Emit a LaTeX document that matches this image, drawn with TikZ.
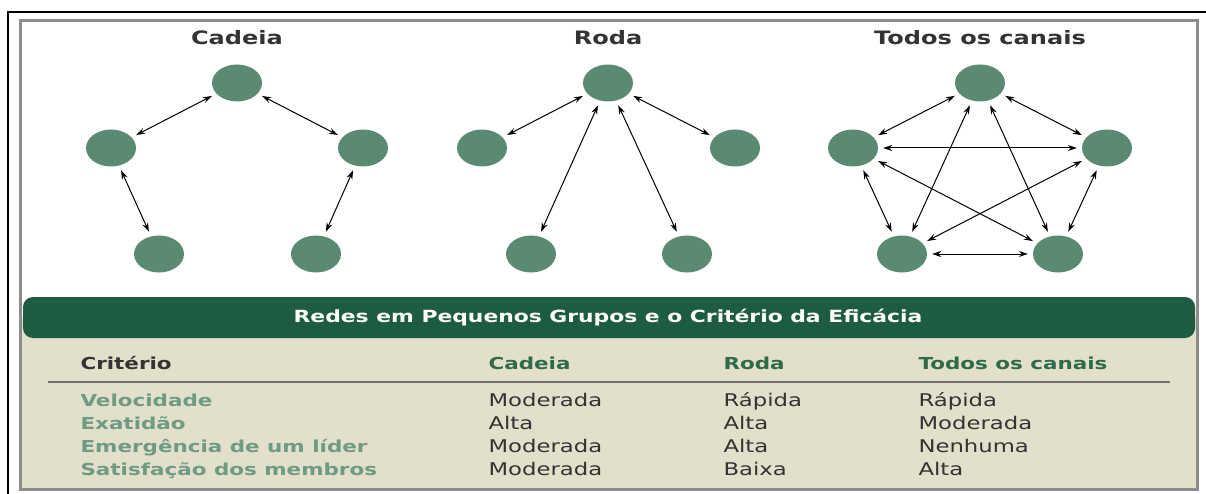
\documentclass[tikz,border=0pt]{standalone}
\usepackage{fontspec}
\setmainfont{DejaVu Sans}[FakeStretch=1.3]
\usetikzlibrary{shapes.geometric,arrows.meta}
\definecolor{membroverde}{HTML}{5B8A72}
\definecolor{faixaverde}{HTML}{1D5C40}
\definecolor{fundobege}{HTML}{E2DFCB}
\definecolor{molduracinza}{HTML}{8C8C8C}
\definecolor{criterioverde}{HTML}{6F9B82}
\definecolor{colunaverde}{HTML}{2F6B4B}
\definecolor{textocinza}{HTML}{333333}
\tikzset{
    membro/.style = {ellipse, fill=membroverde, minimum width=50pt, minimum height=37pt, inner sep=0pt},
    canal/.style = {{Stealth[length=9pt,width=6pt]}-{Stealth[length=9pt,width=6pt]}, line width=1pt, shorten <=5pt, shorten >=5pt},
    titulo/.style = {font=\fontsize{18.5}{22}\selectfont\bfseries, text=textocinza},
    faixa/.style = {font=\fontsize{16.8}{20}\selectfont\bfseries, text=white},
    cabec/.style = {anchor=base west, font=\fontsize{16.5}{20}\selectfont\bfseries, text=colunaverde},
    criterio/.style = {anchor=base west, font=\fontsize{16.5}{20}\selectfont\bfseries, text=criterioverde},
    valor/.style = {anchor=base west, font=\fontsize{17.5}{21}\selectfont, text=textocinza}
}
\begin{document}
\begin{tikzpicture}[x=1pt,y=-1pt]
    \useasboundingbox (0,0) rectangle (1206,494);

    % moldura
    \draw [black, line width=2pt] (8,494) -- (8,12) -- (1206,12);
    \fill [fundobege] (21,317) rectangle (1196,488);
    \draw [molduracinza, line width=3pt] (20,21) rectangle (1197,489);

    % Cadeia
    \node[titulo] (tcad) at (237,38) {Cadeia};
    \node[membro] (c1) at (237,83) {};
    \node[membro] (c2) at (111,148) {};
    \node[membro] (c3) at (363,148) {};
    \node[membro] (c4) at (159,254) {};
    \node[membro] (c5) at (316,254) {};
    \draw [canal] (c1) -- (c2);
    \draw [canal] (c1) -- (c3);
    \draw [canal] (c2) -- (c4);
    \draw [canal] (c3) -- (c5);

    % Roda
    \node[titulo] (trod) at (608,38) {Roda};
    \node[membro] (r1) at (608,83) {};
    \node[membro] (r2) at (482,148) {};
    \node[membro] (r3) at (735,148) {};
    \node[membro] (r4) at (531,254) {};
    \node[membro] (r5) at (687,254) {};
    \draw [canal] (r1) -- (r2);
    \draw [canal] (r1) -- (r3);
    \draw [canal] (r1) -- (r4);
    \draw [canal] (r1) -- (r5);

    % Todos os canais
    \node[titulo] (ttod) at (980,38) {Todos os canais};
    \node[membro] (t1) at (980,83) {};
    \node[membro] (t2) at (853,148) {};
    \node[membro] (t3) at (1107,148) {};
    \node[membro] (t4) at (902,254) {};
    \node[membro] (t5) at (1058,254) {};
    \draw [canal] (t1) -- (t2);
    \draw [canal] (t1) -- (t3);
    \draw [canal] (t2) -- (t3);
    \draw [canal] (t2) -- (t4);
    \draw [canal] (t3) -- (t5);
    \draw [canal] (t4) -- (t5);
    \draw [canal] (t1) -- (t4);
    \draw [canal] (t1) -- (t5);
    \draw [canal] (t2) -- (t5);
    \draw [canal] (t3) -- (t4);

    % tabela
    \fill [faixaverde, rounded corners=10pt] (23,297) rectangle (1195,338);
    \node[faixa] (faixa) at (608,317.5) {Redes em Pequenos Grupos e o Critério da Eficácia};

    \node[cabec, text=textocinza] (hcrit) at (77,369) {Critério};
    \node[cabec] (hcad) at (485,369) {Cadeia};
    \node[cabec] (hrod) at (720,369) {Roda};
    \node[cabec] (htod) at (915,369) {Todos os canais};
    \draw [molduracinza!80!black, line width=1.5pt] (48,382) -- (1170,382);

    \node[criterio] (k1) at (77,406.5) {Velocidade};
    \node[criterio] (k2) at (77,429.5) {Exatidão};
    \node[criterio] (k3) at (77,452.5) {Emergência de um líder};
    \node[criterio] (k4) at (77,475.5) {Satisfação dos membros};

    \node[valor] (a1) at (485,406.5) {Moderada};
    \node[valor] (a2) at (485,429.5) {Alta};
    \node[valor] (a3) at (485,452.5) {Moderada};
    \node[valor] (a4) at (485,475.5) {Moderada};

    \node[valor] (b1) at (720,406.5) {Rápida};
    \node[valor] (b2) at (720,429.5) {Alta};
    \node[valor] (b3) at (720,452.5) {Alta};
    \node[valor] (b4) at (720,475.5) {Baixa};

    \node[valor] (d1) at (915,406.5) {Rápida};
    \node[valor] (d2) at (915,429.5) {Moderada};
    \node[valor] (d3) at (915,452.5) {Nenhuma};
    \node[valor] (d4) at (915,475.5) {Alta};
\end{tikzpicture}
\end{document}
